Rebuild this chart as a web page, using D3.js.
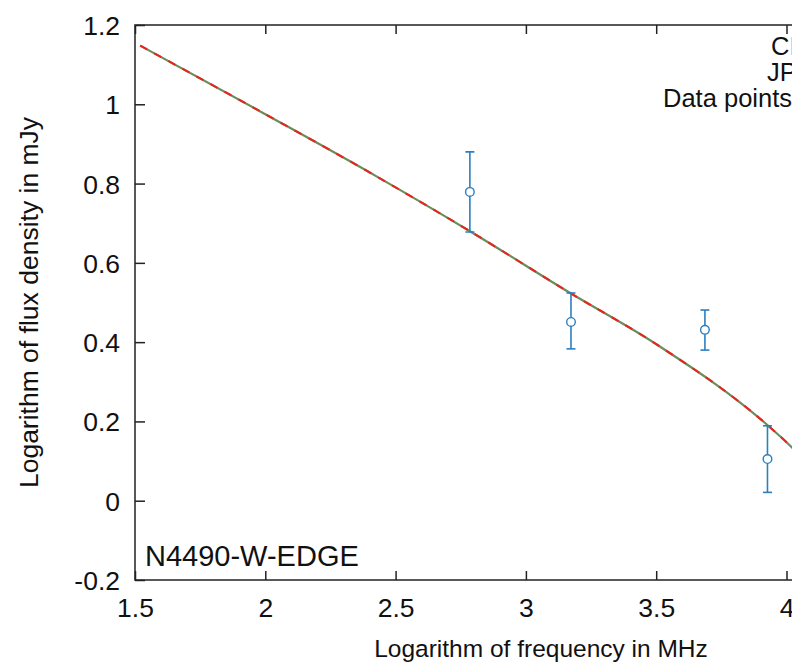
<!DOCTYPE html>
<html>
<head>
<meta charset="utf-8">
<script src="https://cdn.jsdelivr.net/npm/d3@7"></script>
<style>
  body { margin: 0; background: #fff; overflow: hidden; }
  text { font-family: "Liberation Sans", Arial, sans-serif; fill: #111; }
</style>
</head>
<body>
<div id="chart"></div>
<script>
// observed points (log nu in MHz, log S in mJy)
var obsLogFreq = [2.785, 3.173, 3.687, 3.927];
var obsLogFlux = [0.779, 0.451, 0.431, 0.105];
var obsErrHi   = [0.880, 0.524, 0.481, 0.189];
var obsErrLo   = [0.678, 0.383, 0.380, 0.021];

// model curves
var modelLogFreq = [1.52, 2.0, 2.43, 2.79, 3.17, 3.5, 3.93, 4.02, 4.1];
var ciModel = [1.148, 0.975, 0.817, 0.678, 0.524, 0.395, 0.189, 0.135, 0.08];
var jpModel = [1.148, 0.975, 0.817, 0.678, 0.524, 0.395, 0.189, 0.135, 0.08];

var xTicks = [1.5, 2, 2.5, 3, 3.5, 4, 4.5];
var yTicks = [-0.2, 0, 0.2, 0.4, 0.6, 0.8, 1, 1.2];

var legendLabels = ["CI model", "JP model", "Data points"];
var regionLabel = "N4490-W-EDGE";

var width = 792, height = 662;
var margin = {top: 25, left: 135};
var plotRight = 135 + 3 * 260.6;
var plotBottom = 580;

var svg = d3.select("#chart").append("svg")
  .attr("width", width)
  .attr("height", height);

var xScale = d3.scaleLinear()
  .domain([1.5, 4.5])
  .range([margin.left, plotRight]);

var yScale = d3.scaleLinear()
  .domain([-0.2, 1.2])
  .range([plotBottom, margin.top]);

// plain hyphen for negatives, like the original
var plain = function(d) { return String(d); };

// frame
svg.append("rect")
  .attr("x", margin.left)
  .attr("y", margin.top)
  .attr("width", plotRight - margin.left)
  .attr("height", plotBottom - margin.top)
  .attr("fill", "none")
  .attr("stroke", "#222")
  .attr("stroke-width", 1.5);

// axes with inward ticks
var xAxis = svg.append("g")
  .attr("transform", "translate(0," + plotBottom + ")")
  .call(d3.axisBottom(xScale).tickValues(xTicks).tickSizeInner(-9).tickSizeOuter(0)
    .tickPadding(18).tickFormat(plain));
var xAxisTop = svg.append("g")
  .attr("transform", "translate(0," + margin.top + ")")
  .call(d3.axisTop(xScale).tickValues(xTicks).tickSizeInner(-9).tickSizeOuter(0)
    .tickFormat(""));
var yAxis = svg.append("g")
  .attr("transform", "translate(" + margin.left + ",0)")
  .call(d3.axisLeft(yScale).tickValues(yTicks).tickSizeInner(-10).tickSizeOuter(0)
    .tickPadding(15).tickFormat(plain));

[xAxis, xAxisTop, yAxis].forEach(function(g) {
  g.select(".domain").remove();
  g.selectAll(".tick line").attr("stroke", "#222").attr("stroke-width", 1.5);
  g.selectAll(".tick text")
    .style("font-size", "26.5px")
    .attr("fill", "#111")
    .style("font-family", "'Liberation Sans', Arial, sans-serif");
});
yAxis.selectAll(".tick text").attr("dy", "0.36em");

// axis titles
svg.append("text")
  .attr("text-anchor", "middle")
  .attr("x", 541)
  .attr("y", 657)
  .style("font-size", "24.5px")
  .text("Logarithm of frequency in MHz");

svg.append("text")
  .attr("text-anchor", "middle")
  .attr("transform", "translate(38," + ((margin.top + plotBottom) / 2) + ") rotate(-90)")
  .style("font-size", "26.5px")
  .text("Logarithm of flux density in mJy");

// clip to plot area
svg.append("clipPath").attr("id", "plotclip")
  .append("rect")
  .attr("x", margin.left)
  .attr("y", margin.top)
  .attr("width", plotRight - margin.left)
  .attr("height", plotBottom - margin.top);

var plot = svg.append("g").attr("clip-path", "url(#plotclip)");

var line = d3.line()
  .x(function(d) { return xScale(d[0]); })
  .y(function(d) { return yScale(d[1]); })
  .curve(d3.curveMonotoneX);

plot.append("path")
  .datum(d3.zip(modelLogFreq, jpModel))
  .attr("d", line)
  .attr("fill", "none")
  .attr("stroke", "#6b8c5c")
  .attr("stroke-width", 2.2);

plot.append("path")
  .datum(d3.zip(modelLogFreq, ciModel))
  .attr("d", line)
  .attr("fill", "none")
  .attr("stroke", "#e8241c")
  .attr("stroke-width", 2)
  .attr("stroke-dasharray", "8,8");

// error bars
var ptColor = "#2b7fc0";
var pts = obsLogFreq.map(function(f, i) {
  return {x: f, y: obsLogFlux[i], hi: obsErrHi[i], lo: obsErrLo[i]};
});

var eb = plot.selectAll(".eb")
  .data(pts)
  .enter()
  .append("g")
  .attr("class", "eb");

eb.append("line")
  .attr("x1", function(d) { return xScale(d.x); })
  .attr("x2", function(d) { return xScale(d.x); })
  .attr("y1", function(d) { return yScale(d.hi); })
  .attr("y2", function(d) { return yScale(d.lo); })
  .attr("stroke", ptColor).attr("stroke-width", 1.6);

["hi", "lo"].forEach(function(k) {
  eb.append("line")
    .attr("x1", function(d) { return xScale(d.x) - 4.5; })
    .attr("x2", function(d) { return xScale(d.x) + 4.5; })
    .attr("y1", function(d) { return yScale(d[k]); })
    .attr("y2", function(d) { return yScale(d[k]); })
    .attr("stroke", ptColor).attr("stroke-width", 1.6);
});

eb.append("circle")
  .attr("cx", function(d) { return xScale(d.x); })
  .attr("cy", function(d) { return yScale(d.y); })
  .attr("r", 4.3)
  .attr("fill", "#fff")
  .attr("stroke", ptColor)
  .attr("stroke-width", 1.4);

// key (cut off at the right edge, as in the picture)
var keyX = [771, 767, 663];
var keyY = [55, 81, 107];
svg.selectAll(".key")
  .data(legendLabels)
  .enter()
  .append("text")
  .attr("class", "key")
  .attr("x", function(d, i) { return keyX[i]; })
  .attr("y", function(d, i) { return keyY[i]; })
  .style("font-size", "25.5px")
  .text(function(d) { return d; });

// region label
svg.append("text")
  .attr("x", 145)
  .attr("y", 566)
  .style("font-size", "29px")
  .text(regionLabel);
</script>
</body>
</html>
